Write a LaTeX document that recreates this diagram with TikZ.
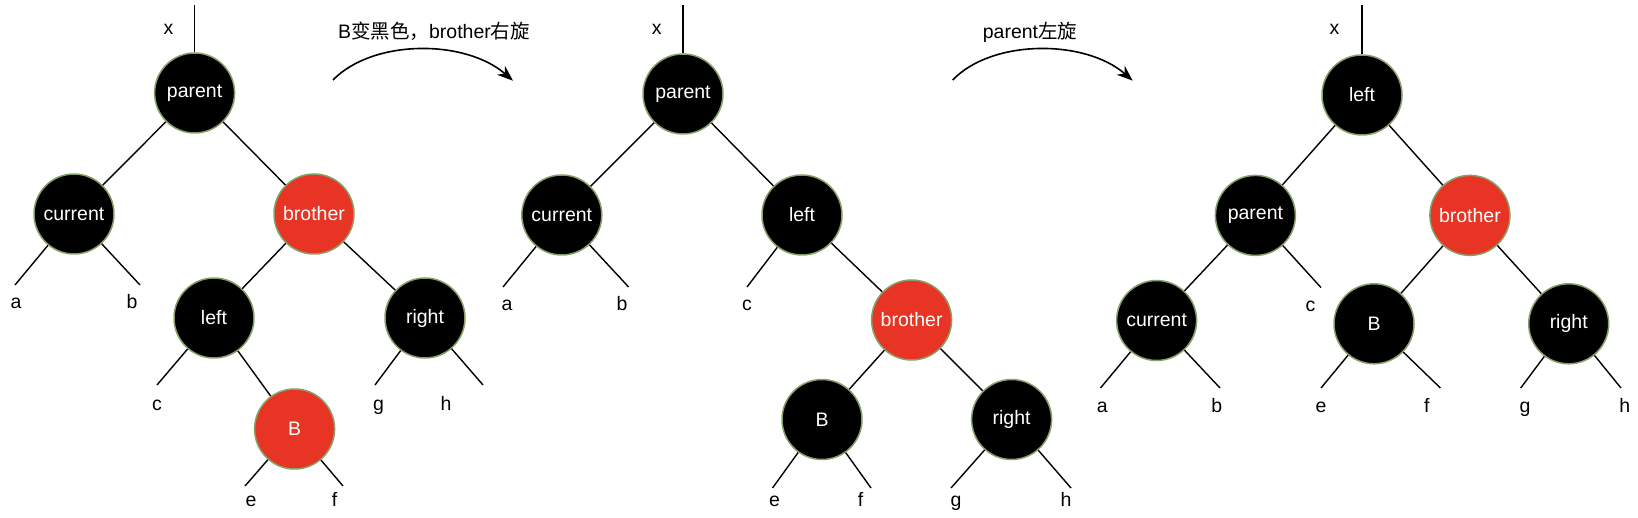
\documentclass[tikz,border=0pt]{standalone}
\usepackage{fontspec}
\setmainfont{Liberation Sans}
\newfontfamily\cjk{Noto Sans CJK SC}
\usetikzlibrary{arrows.meta}
\definecolor{rbred}{RGB}{232,52,36}
\definecolor{rbedge}{RGB}{135,160,105}
\begin{document}
\begin{tikzpicture}[x=1pt,y=-1pt,
  rbnode/.style={circle,minimum size=80pt,inner sep=0pt,draw=rbedge,line width=1.5pt,text=white,font=\fontsize{19.5}{23}\selectfont},
  blk/.style={rbnode,fill=black},
  rd/.style={rbnode,fill=rbred},
  lbl/.style={anchor=base,inner sep=0pt,font=\fontsize{19.5}{23}\selectfont},
  edge/.style={draw=black,line width=1.4pt},
  turn/.style={line width=1.6pt,-{Stealth[length=16pt,width=12pt]}}
]
\useasboundingbox (0,0) rectangle (1638,518);

% ---------- Tree 1 ----------
\node[blk] (p1) at (194.6,93) {parent};
\node[blk] (c1) at (74,214) {current};
\node[rd]  (b1) at (314,214) {brother};
\node[blk] (l1) at (214,318) {left};
\node[blk] (r1) at (425,318) {right};
\node[rd]  (B1) at (294.6,429) {B};
\coordinate (x1) at (194.6,5);
\coordinate (a1e) at (15,285);
\coordinate (b1e) at (140,285);
\coordinate (c1e) at (157,385);
\coordinate (g1e) at (375,385);
\coordinate (h1e) at (483,385);
\coordinate (e1e) at (245,486);
\coordinate (f1e) at (343,486);
\draw[edge] (p1) -- (x1);
\draw[edge] (p1) -- (c1);
\draw[edge] (p1) -- (b1);
\draw[edge] (b1) -- (l1);
\draw[edge] (b1) -- (r1);
\draw[edge] (l1) -- (B1);
\draw[edge] (c1) -- (a1e);
\draw[edge] (c1) -- (b1e);
\draw[edge] (l1) -- (c1e);
\draw[edge] (r1) -- (g1e);
\draw[edge] (r1) -- (h1e);
\draw[edge] (B1) -- (e1e);
\draw[edge] (B1) -- (f1e);
\node[lbl] (tx1) at (168.6,35) {x};
\node[lbl] (ta1) at (16,309) {a};
\node[lbl] (tb1) at (132,309) {b};
\node[lbl] (tc1) at (157,410.5) {c};
\node[lbl] (tg1) at (378.6,410.5) {g};
\node[lbl] (th1) at (446,410.5) {h};
\node[lbl] (te1) at (251,506) {e};
\node[lbl] (tf1) at (334.6,506) {f};

% ---------- Arrow 1 ----------
\coordinate (s1) at (333,80);
\coordinate (t1) at (513,80.7);
\draw[turn] (s1) .. controls (373,39) and (465,39) .. (t1);
\node[lbl] (L1) at (434,38.5) {B{\cjk 变黑色，}brother{\cjk 右旋}};

% ---------- Tree 2 ----------
\node[blk] (p2) at (683,94) {parent};
\node[blk] (c2) at (561.8,215) {current};
\node[blk] (l2) at (802,215) {left};
\node[rd]  (b2) at (911.6,320) {brother};
\node[blk] (B2) at (822,419.5) {B};
\node[blk] (r2) at (1011.6,419.5) {right};
\coordinate (x2) at (683,5);
\coordinate (a2e) at (503,287);
\coordinate (b2e) at (628.6,287);
\coordinate (c2e) at (747,287);
\coordinate (e2e) at (772.5,488);
\coordinate (f2e) at (871,488);
\coordinate (g2e) at (951,488);
\coordinate (h2e) at (1071,488);
\draw[edge] (p2) -- (x2);
\draw[edge] (p2) -- (c2);
\draw[edge] (p2) -- (l2);
\draw[edge] (l2) -- (b2);
\draw[edge] (b2) -- (B2);
\draw[edge] (b2) -- (r2);
\draw[edge] (c2) -- (a2e);
\draw[edge] (c2) -- (b2e);
\draw[edge] (l2) -- (c2e);
\draw[edge] (B2) -- (e2e);
\draw[edge] (B2) -- (f2e);
\draw[edge] (r2) -- (g2e);
\draw[edge] (r2) -- (h2e);
\node[lbl] (tx2) at (656.7,35) {x};
\node[lbl] (ta2) at (507,311) {a};
\node[lbl] (tb2) at (622,311) {b};
\node[lbl] (tc2) at (747,311) {c};
\node[lbl] (te2) at (774.5,506.7) {e};
\node[lbl] (tf2) at (860.6,506.7) {f};
\node[lbl] (tg2) at (956,506.7) {g};
\node[lbl] (th2) at (1066,506.7) {h};

% ---------- Arrow 2 ----------
\coordinate (s2) at (952.7,80);
\coordinate (t2) at (1132.7,80.7);
\draw[turn] (s2) .. controls (992,39) and (1085,39) .. (t2);
\node[lbl] (L2) at (1030,38.5) {parent{\cjk 左旋}};

% ---------- Tree 3 ----------
\node[blk] (l3) at (1362,95) {left};
\node[blk] (p3) at (1255.4,215.4) {parent};
\node[rd]  (b3) at (1469.9,215.4) {brother};
\node[blk] (c3) at (1156.6,320.5) {current};
\node[blk] (B3) at (1374,323.8) {B};
\node[blk] (r3) at (1568.7,323.8) {right};
\coordinate (x3) at (1362,5);
\coordinate (a3e) at (1100.5,388);
\coordinate (b3e) at (1220,388);
\coordinate (c3e) at (1321,287.6);
\coordinate (e3e) at (1321,388);
\coordinate (f3e) at (1440.4,388);
\coordinate (g3e) at (1520.7,388);
\coordinate (h3e) at (1621,388);
\draw[edge] (l3) -- (x3);
\draw[edge] (l3) -- (p3);
\draw[edge] (l3) -- (b3);
\draw[edge] (p3) -- (c3);
\draw[edge] (p3) -- (c3e);
\draw[edge] (b3) -- (B3);
\draw[edge] (b3) -- (r3);
\draw[edge] (c3) -- (a3e);
\draw[edge] (c3) -- (b3e);
\draw[edge] (B3) -- (e3e);
\draw[edge] (B3) -- (f3e);
\draw[edge] (r3) -- (g3e);
\draw[edge] (r3) -- (h3e);
\node[lbl] (tx3) at (1334.6,35) {x};
\node[lbl] (ta3) at (1102.4,412.7) {a};
\node[lbl] (tb3) at (1216.7,412.7) {b};
\node[lbl] (tc3) at (1310.6,312) {c};
\node[lbl] (te3) at (1321,412.7) {e};
\node[lbl] (tf3) at (1426.7,412.7) {f};
\node[lbl] (tg3) at (1525,412.7) {g};
\node[lbl] (th3) at (1624.7,412.7) {h};
\end{tikzpicture}
\end{document}
